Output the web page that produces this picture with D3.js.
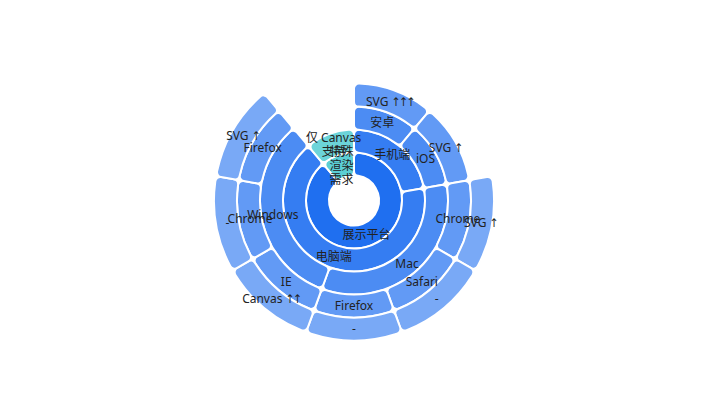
<!DOCTYPE html>
<html>
<head>
<meta charset="utf-8">
<script src="https://cdn.jsdelivr.net/npm/d3@7/dist/d3.min.js"></script>
<style>
  html, body { margin: 0; padding: 0; background: #fff; }
  svg { display: block; }
  .arrow { font-family: 'DejaVu Sans Condensed', 'DejaVu Sans', sans-serif; letter-spacing: -1.5px; }
</style>
</head>
<body>
<div id="chart"></div>
<script>
// ---- data ----
const groups = ['展示平台', '特殊\n渲染\n需求'];
const groupColors = ['#1f6ff0', '#5ccfd5'];
const leafPaths = [
  ['展示平台', '手机端', '安卓', 'SVG ↑↑↑'],
  ['展示平台', '手机端', 'iOS', 'SVG ↑'],
  ['展示平台', '电脑端', 'Mac', 'Chrome', 'SVG ↑'],
  ['展示平台', '电脑端', 'Mac', 'Safari', '-'],
  ['展示平台', '电脑端', 'Mac', 'Firefox', '-'],
  ['展示平台', '电脑端', 'Windows', 'IE', 'Canvas ↑↑'],
  ['展示平台', '电脑端', 'Windows', 'Chrome', '-'],
  ['展示平台', '电脑端', 'Windows', 'Firefox', 'SVG ↑'],
  ['特殊\n渲染\n需求', '仅 Canvas\n支持']
];
const leafValues = [1, 1, 1, 1, 1, 1, 1, 1, 1];
const levelOpacity = [1, 0.9, 0.8, 0.7, 0.6];

// ---- build hierarchy ----
const rootData = { name: 'root', children: [] };
leafPaths.forEach((path, i) => {
  let node = rootData;
  path.forEach((name, j) => {
    node.children = node.children || [];
    let child = node.children.find(c => c.name === name);
    if (!child) { child = { name }; node.children.push(child); }
    if (j === path.length - 1) child.value = leafValues[i];
    node = child;
  });
});

const W = 708, H = 401;
const cx = 354, cy = 200.5;
const innerR = 25, outerR = 140, levels = 5;

const root = d3.hierarchy(rootData).sum(d => d.children ? 0 : (d.value || 0));
d3.partition().size([2 * Math.PI, levels + 1])(root);

const rScale = d3.scaleLinear().domain([1, levels + 1]).range([innerR, outerR]);

const arc = d3.arc()
  .startAngle(d => d.x0)
  .endAngle(d => d.x1)
  .innerRadius(d => rScale(d.y0))
  .outerRadius(d => rScale(d.y1))
  .cornerRadius(5);

const svg = d3.select('#chart').append('svg').attr('width', W).attr('height', H);
const g = svg.append('g').attr('transform', `translate(${cx},${cy})`);

const nodes = root.descendants().filter(d => d.depth > 0);
const topOf = d => d.ancestors().find(a => a.depth === 1);

g.selectAll('path.seg').data(nodes).join('path')
  .attr('class', 'seg')
  .attr('d', arc)
  .attr('fill', d => {
    const base = d3.color(groupColors[groups.indexOf(topOf(d).data.name)]);
    const a = levelOpacity[d.depth - 1];
    return d3.rgb(
      base.r * a + 255 * (1 - a),
      base.g * a + 255 * (1 - a),
      base.b * a + 255 * (1 - a)
    ).toString();
  })
  .attr('stroke', '#fff')
  .attr('stroke-width', 2)
  .attr('stroke-linejoin', 'round');

const lineH = 14;
const labels = g.selectAll('text.lbl').data(nodes).join('text')
  .attr('class', 'lbl')
  .attr('transform', d => `translate(${arc.centroid(d)})`)
  .attr('text-anchor', 'middle')
  .attr('font-family', "'Noto Sans', 'DejaVu Sans', 'Noto Sans CJK SC', sans-serif")
  .attr('font-size', 12)
  .attr('fill', '#222');

labels.each(function(d) {
  const lines = d.data.name.split('\n');
  const t = d3.select(this);
  lines.forEach((ln, i) => {
    const ts = t.append('tspan')
      .attr('x', 0)
      .attr('y', (i - (lines.length - 1) / 2) * lineH)
      .attr('dy', '0.35em');
    const m = ln.match(/^([^↑]*)(↑+)$/);
    if (m) {
      ts.text(m[1]);
      t.append('tspan').attr('class', 'arrow').text(m[2]);
    } else {
      ts.text(ln);
    }
  });
});
</script>
</body>
</html>
